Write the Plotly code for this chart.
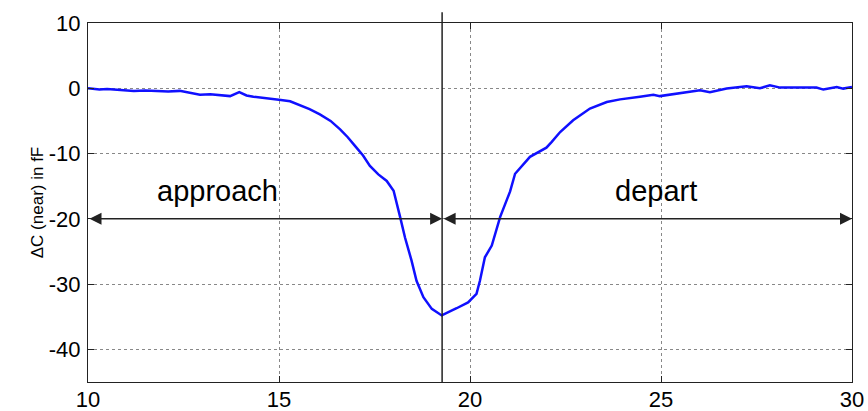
import plotly.graph_objects as go

# Measured curve: time (s) vs capacitance change (fF)
time_s = [10.0, 10.3, 10.5, 10.9, 11.2, 11.5, 11.8, 12.1, 12.4, 12.7, 12.93, 13.2, 13.5, 13.72, 13.96,
          14.15, 14.33, 14.6, 14.85, 15.05, 15.29, 15.55, 15.8, 16.07, 16.35, 16.6, 16.8, 17.0,
          17.2, 17.38, 17.6, 17.82, 18.0, 18.17, 18.3, 18.47, 18.6, 18.78, 19.0, 19.26,
          19.45, 19.65, 19.95, 20.17, 20.26, 20.39, 20.57, 20.79, 21.05, 21.18, 21.57, 22.0,
          22.14, 22.36, 22.7, 23.14, 23.58, 23.93, 24.45, 24.8, 24.97, 25.41, 25.7, 26.02,
          26.28, 26.72, 27.24, 27.59, 27.85, 28.12, 28.64, 29.07, 29.25, 29.6, 29.77, 30.0]
delta_c = [0.0, -0.2, -0.1, -0.3, -0.4, -0.35, -0.45, -0.5, -0.4, -0.7, -1.0, -0.9, -1.1, -1.2, -0.6,
           -1.1, -1.3, -1.45, -1.6, -1.8, -2.0, -2.6, -3.2, -4.0, -5.0, -6.3, -7.5, -8.9,
           -10.3, -11.9, -13.2, -14.2, -15.7, -19.7, -22.9, -26.4, -29.5, -32.0, -33.8, -34.8,
           -34.3, -33.7, -32.8, -31.5, -29.5, -25.9, -24.1, -19.7, -15.8, -13.1, -10.5, -9.1,
           -8.2, -6.7, -4.9, -3.1, -2.1, -1.7, -1.3, -1.0, -1.2, -0.8, -0.6, -0.3,
           -0.6, -0.05, 0.3, 0.0, 0.45, 0.1, 0.1, 0.1, -0.2, 0.2, -0.05, 0.2]

x_ticks = [10, 15, 20, 25, 30]
x_tick_labels = ["10", "15", "20", "25", "30"]
y_ticks = [-40, -30, -20, -10, 0, 10]
y_tick_labels = ["-40", "-30", "-20", "-10", "0", "10"]
x_range = [10, 30]
y_range = [-45, 10]

t_split = 19.27
arrow_level = -20
phase_labels = ["approach", "depart"]
phase_label_x = [13.4, 24.87]
phase_label_y = -15.8

font_family = "Liberation Sans, Arial, sans-serif"

fig = go.Figure()
fig.add_trace(go.Scatter(x=time_s, y=delta_c, mode="lines",
                         line=dict(color="#1010ff", width=2.5), showlegend=False))

# vertical divider
fig.add_shape(type="line", xref="x", yref="paper", x0=t_split, x1=t_split, y0=0, y1=1.03,
              line=dict(color="#222222", width=1.5))

# double-headed arrows
for (a, b) in [(x_range[0], t_split), (t_split, x_range[1])]:
    fig.add_annotation(x=b, y=arrow_level, ax=a, ay=arrow_level, xref="x", yref="y",
                       axref="x", ayref="y", text="", showarrow=True,
                       arrowside="end+start", arrowhead=2, startarrowhead=2,
                       arrowsize=1.6, startarrowsize=1.6, arrowwidth=1.5,
                       arrowcolor="#222222", standoff=0, startstandoff=0)

for lbl, lx in zip(phase_labels, phase_label_x):
    fig.add_annotation(x=lx, y=phase_label_y, xref="x", yref="y", text=lbl,
                       showarrow=False, font=dict(family=font_family, size=29, color="black"))

axis_common = dict(showline=True, linecolor="#222222", linewidth=1.2, mirror="ticks",
                   ticks="inside", ticklen=6, tickcolor="#222222", automargin=False,
                   showgrid=True, gridcolor="#888888", griddash="dot", gridwidth=1,
                   zeroline=False, tickfont=dict(family=font_family, size=22, color="black"))

fig.update_xaxes(range=x_range, tickvals=x_ticks, ticktext=x_tick_labels,
                 ticklabelstandoff=-3, **axis_common)
fig.update_yaxes(range=y_range, tickvals=y_ticks, ticktext=y_tick_labels, ticklabelstandoff=2,
                 title=dict(text="ΔC (near) in fF", standoff=0,
                            font=dict(family=font_family, size=17, color="black")),
                 **axis_common)

fig.update_layout(width=868, height=411, margin=dict(l=88, r=16, t=23, b=29),
                  plot_bgcolor="white", paper_bgcolor="white",
                  font=dict(family=font_family))

fig.write_html("out.html")
